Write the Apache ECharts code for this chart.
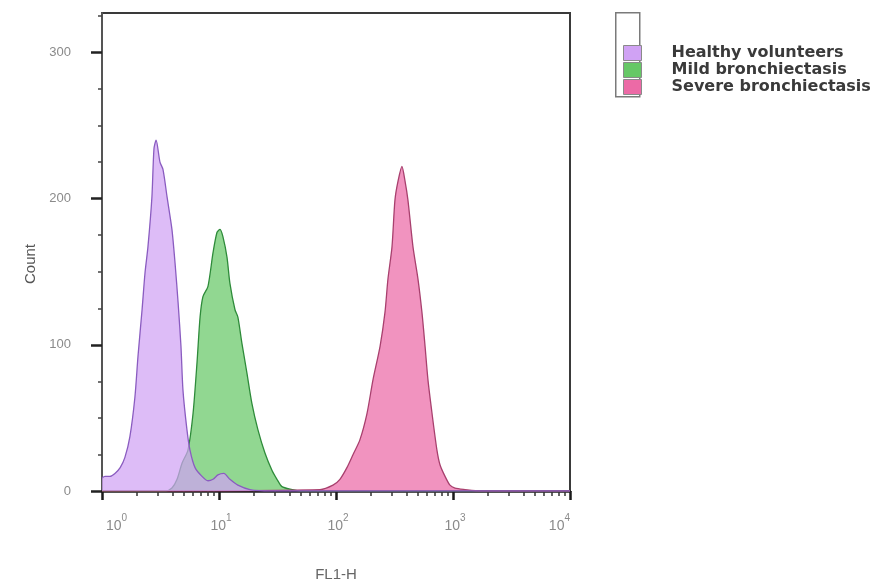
<!DOCTYPE html>
<html>
<head>
<meta charset="utf-8">
<script src="https://cdn.jsdelivr.net/npm/echarts@6/dist/echarts.min.js"></script>
<style>
  html, body { margin: 0; padding: 0; background: #ffffff; }
  #chart { width: 885px; height: 584px; }
</style>
</head>
<body>
<div id="chart"></div>
<script>
// ---- data ----
const seriesNames = ['Healthy volunteers', 'Mild bronchiectasis', 'Severe bronchiectasis'];

const healthyX = [1, 1.06, 1.17, 1.29, 1.43, 1.57, 1.73, 1.91, 2.03, 2.20, 2.33, 2.47, 2.67, 2.78, 2.90, 3.13, 3.32, 3.60, 3.96, 4.21, 4.47, 4.73, 4.92, 5.32, 5.65, 6.24, 7.16, 8.05, 8.89, 9.79, 11.0, 12.4, 14.5, 18.4, 27.3, 10000];
const healthyY = [9, 10, 10, 12, 16, 23, 37, 64, 92, 124, 149, 167, 201, 234, 240, 225, 220, 201, 179, 156, 129, 99, 69, 42, 28, 16, 10, 7, 8, 11, 12, 8, 4, 1, 0, 0];

const mildX = [1, 3.5, 3.96, 4.38, 4.83, 5.43, 6.00, 6.49, 6.89, 7.29, 8.05, 8.89, 9.62, 10.2, 10.8, 11.7, 12.4, 13.7, 14.5, 15.7, 17.3, 19.1, 21.5, 24.7, 28.4, 31.3, 34.5, 42.1, 49.2, 10000];
const mildY = [0, 0, 2, 8, 19, 28, 53, 88, 119, 133, 140, 163, 177, 179, 174, 160, 142, 124, 119, 101, 81, 60, 42, 26, 14, 8, 3, 1, 0, 0];

const severeX = [1, 72.9, 94.2, 108, 124, 140, 160, 184, 207, 238, 262, 278, 301, 319, 339, 366, 389, 412, 455, 502, 543, 577, 611, 662, 729, 774, 855, 942, 1040, 1268, 1702, 10000];
const severeY = [0, 1, 4, 8, 16, 25, 35, 53, 76, 99, 122, 145, 167, 199, 212, 222, 212, 199, 167, 145, 122, 99, 76, 53, 28, 18, 10, 4, 2, 1, 0, 0];

// ---- ticks ----
const xTickValues = [1, 10, 100, 1000, 10000];
const xTickExponents = ['0', '1', '2', '3', '4'];
const xMinorTicks = [2, 3, 4, 5, 6, 7, 8, 9, 20, 30, 40, 50, 60, 70, 80, 90,
                     200, 300, 400, 500, 600, 700, 800, 900, 2000, 3000, 4000, 5000, 6000, 7000, 8000, 9000];
const yTickValues = [0, 100, 200, 300];
const yMinorTicks = [25, 50, 75, 125, 150, 175, 225, 250, 275, 325];

const fillColors = ['#d0a2f4', '#66c866', '#ec6aa6'];
const lineColors = ['#8a5cc0', '#2e8b3a', '#a8406e'];
const seriesZ = [4, 2, 3];

function pairs(xs, ys) { return xs.map((x, i) => [x, ys[i]]); }
const seriesData = [pairs(healthyX, healthyY), pairs(mildX, mildY), pairs(severeX, severeY)];

const chart = echarts.init(document.getElementById('chart'), null, { renderer: 'canvas' });

const option = {
  backgroundColor: '#ffffff',
  animation: false,
  grid: { left: 102, right: 315, top: 13, bottom: 93, containLabel: false, outerBoundsMode: 'none', show: true, borderColor: '#3a3a3a', borderWidth: 2, backgroundColor: 'transparent' },
  legend: {
    orient: 'vertical', left: 618, top: 40,
    icon: 'rect', itemWidth: 18, itemHeight: 15, itemGap: 1,
    itemStyle: { borderColor: '#8a8a8a', borderWidth: 1 },
    textStyle: { fontFamily: 'DejaVu Sans', fontSize: 16, fontWeight: 'bold', color: '#3a3a3a', lineHeight: 15, padding: [0, 0, 0, 25] },
    data: seriesNames
  },
  graphic: [
    { type: 'rect', left: 615, top: 12, shape: { width: 24, height: 84 }, style: { fill: '#ffffff', stroke: '#7a7a7a', lineWidth: 1.5 }, z: -1 }
  ],
  xAxis: [
    {
      type: 'log', logBase: 10, min: 1, max: 10000,
      name: 'FL1-H', nameLocation: 'middle', nameGap: 76,
      nameTextStyle: { fontFamily: 'Liberation Sans', fontSize: 15, color: '#666' },
      axisLine: { show: true, onZero: false, lineStyle: { color: '#1a1a1a', width: 2.5 } },
      axisTick: { show: true, inside: false, length: 9, lineStyle: { color: '#1a1a1a', width: 2.5 }, customValues: xTickValues },
      splitLine: { show: false },
      axisLabel: {
        margin: 22, alignMinLabel: 'left', alignMaxLabel: 'right',
        customValues: xTickValues,
        formatter: function (v) {
          const i = xTickValues.indexOf(v);
          return '{b|10}{s|' + (i >= 0 ? xTickExponents[i] : '') + '}';
        },
        rich: {
          b: { fontFamily: 'Liberation Sans', fontSize: 14, color: '#8a8a8a', verticalAlign: 'bottom', lineHeight: 20, padding: [0, 0, 0, 4] },
          s: { fontFamily: 'Liberation Sans', fontSize: 10, color: '#8a8a8a', verticalAlign: 'top', lineHeight: 20 }
        }
      }
    },
    {
      type: 'log', logBase: 10, min: 1, max: 10000, position: 'bottom',
      axisLine: { show: false },
      axisTick: { show: true, length: 5, lineStyle: { color: '#333', width: 1.5 }, customValues: xMinorTicks },
      axisLabel: { show: false }, splitLine: { show: false }
    }
  ],
  yAxis: [
    {
      type: 'value', min: 0, max: 327,
      name: 'Count', nameLocation: 'middle', nameGap: 60, nameRotate: 90,
      nameTextStyle: { fontFamily: 'Liberation Sans', fontSize: 15, color: '#555', padding: [0, 24, 0, 0] },
      axisLine: { show: true, lineStyle: { color: '#555', width: 2 } },
      axisTick: { show: true, length: 11, lineStyle: { color: '#222', width: 2.5 }, customValues: yTickValues },
      axisLabel: { margin: 31, customValues: yTickValues, fontFamily: 'Liberation Sans', fontSize: 13, color: '#8a8a8a' },
      splitLine: { show: false }
    },
    {
      type: 'value', min: 0, max: 327, position: 'left',
      axisLine: { show: false },
      axisTick: { show: true, length: 4, lineStyle: { color: '#444', width: 1.5 }, customValues: yMinorTicks },
      axisLabel: { show: false }, splitLine: { show: false }
    }
  ],
  series: seriesNames.map((name, i) => ({
    name: name,
    type: 'line',
    xAxisIndex: 0, yAxisIndex: 0,
    data: seriesData[i],
    smooth: 0.25,
    showSymbol: false,
    symbol: 'none',
    itemStyle: { color: fillColors[i] },
    lineStyle: { color: lineColors[i], width: 1.3 },
    areaStyle: { color: fillColors[i], opacity: 0.72 },
    z: seriesZ[i]
  }))
};

chart.setOption(option);
</script>
</body>
</html>
